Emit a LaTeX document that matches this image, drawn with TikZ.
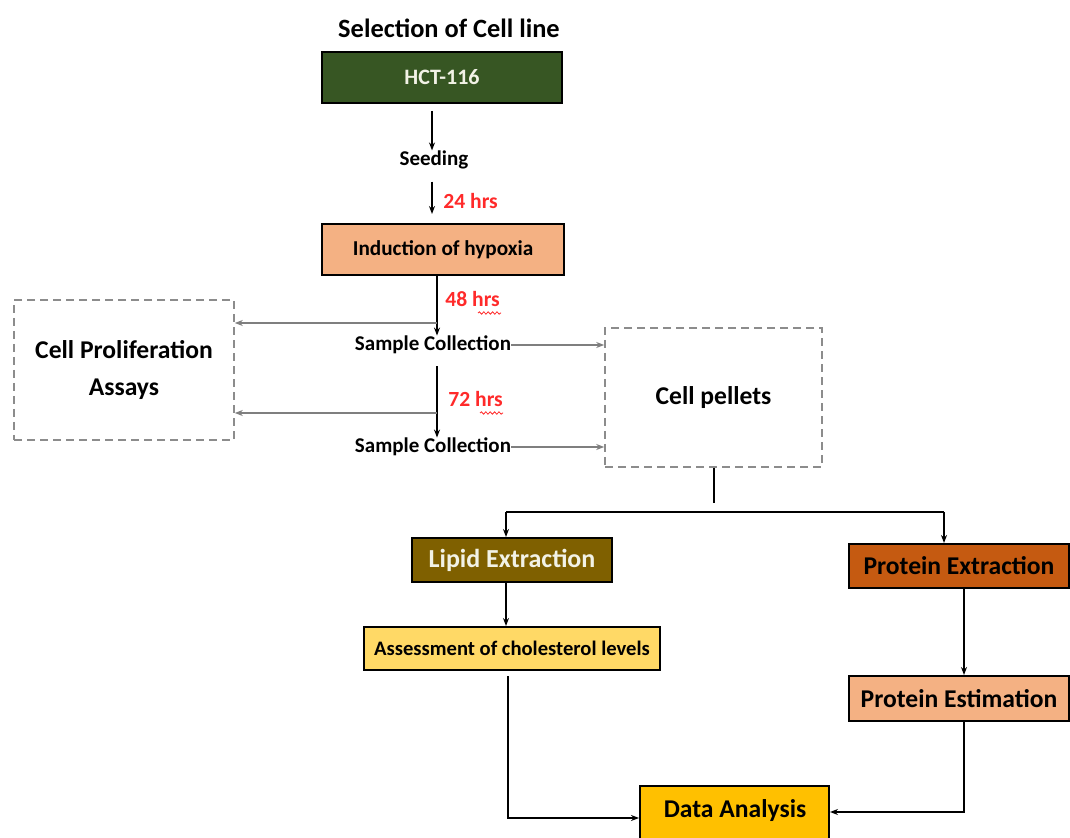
\documentclass[tikz,border=0pt]{standalone}
\usepackage{fontspec}
\setmainfont{Carlito}
\usetikzlibrary{arrows.meta,decorations.pathmorphing}
\definecolor{hctgreen}{HTML}{375623}
\definecolor{salmon}{HTML}{F4B183}
\definecolor{lipidc}{HTML}{7F6000}
\definecolor{protc}{HTML}{C55A11}
\definecolor{assessc}{HTML}{FFD966}
\definecolor{datac}{HTML}{FFC000}
\definecolor{hrsred}{HTML}{FF2A2A}
\definecolor{arrgray}{HTML}{7F7F7F}
\definecolor{dashgray}{HTML}{8C8C8C}
\definecolor{lighttext}{HTML}{F2F2E6}
\begin{document}
\begin{tikzpicture}[x=0.5pt,y=-0.5pt,
  solidbox/.style={draw=black,line width=1pt,inner sep=0pt,font=\bfseries},
  dashbox/.style={draw=dashgray,dash pattern=on 4pt off 2.5pt,line width=0.8pt,inner sep=0pt,font=\bfseries\fontsize{12.8pt}{15.5pt}\selectfont,align=center},
  plain/.style={inner sep=0pt,font=\bfseries\fontsize{10.5pt}{12pt}\selectfont},
  hrs/.style={inner sep=0pt,anchor=west,text=hrsred,font=\bfseries\fontsize{10.8pt}{12pt}\selectfont},
  arr/.style={draw=black,line width=0.75pt,-{Stealth[length=4pt,width=3pt]}},
  line/.style={draw=black,line width=0.75pt},
  garr/.style={draw=arrgray,line width=0.8pt,-{Stealth[length=4pt,width=3pt]}},
  wavy/.style={draw=hrsred,line width=0.4pt,decorate,decoration={snake,amplitude=0.6pt,segment length=2.2pt}}
]
\useasboundingbox (0,0) rectangle (1070,838);

% axis helpers
\coordinate (ax1) at (432,0);
\coordinate (ax2) at (437,0);

% title
\node[inner sep=0pt,font=\bfseries\fontsize{13.2pt}{15pt}\selectfont] (title) at (449,28) {Selection of Cell line};

% boxes
\node[solidbox,fill=hctgreen,text=lighttext,minimum width=120pt,minimum height=25.5pt,font=\bfseries\fontsize{11pt}{13pt}\selectfont] (hct) at (442,77.5) {HCT-116};
\node[plain] (seed) at (434,160) {Seeding};
\node[hrs] (h24) at (443,201) {24 hrs};
\node[solidbox,fill=salmon,minimum width=121pt,minimum height=25.5pt,font=\bfseries\fontsize{10.6pt}{12pt}\selectfont] (ind) at (443,249.5) {Induction of hypoxia};
\node[hrs] (h48) at (445,299) {48 hrs};
\node[plain] (sc1) at (433,345) {Sample Collection};
\node[hrs] (h72) at (448,399) {72 hrs};
\node[plain] (sc2) at (433,447) {Sample Collection};

\node[dashbox,minimum width=110pt,minimum height=70pt] (cpa) at (124,370) {Cell Proliferation\\[3pt]Assays};
\node[dashbox,minimum width=108.5pt,minimum height=69.5pt] (pel) at (713.5,397.5) {Cell pellets};

\node[solidbox,fill=lipidc,text=lighttext,minimum width=100pt,minimum height=22pt,font=\bfseries\fontsize{13pt}{15pt}\selectfont] (lip) at (512,560) {Lipid Extraction};
\node[solidbox,fill=protc,minimum width=110pt,minimum height=22pt,font=\bfseries\fontsize{12.8pt}{15pt}\selectfont] (pex) at (959,566) {Protein Extraction};
\node[solidbox,fill=assessc,minimum width=148pt,minimum height=21.5pt,font=\bfseries\fontsize{10.3pt}{12pt}\selectfont] (ass) at (512,648.5) {Assessment of cholesterol levels};
\node[solidbox,fill=salmon,minimum width=110pt,minimum height=22.5pt,font=\bfseries\fontsize{12.8pt}{15pt}\selectfont] (pes) at (959,698.5) {Protein Estimation};
\node[solidbox,fill=datac,minimum width=94.5pt,minimum height=28pt,font=\bfseries\fontsize{12.8pt}{15pt}\selectfont] (dat) at (734.5,814) {};
\node[inner sep=0pt,font=\bfseries\fontsize{12.8pt}{15pt}\selectfont] (datt) at (735,811) {Data Analysis};

% wavy underlines
\draw[wavy] (478,313) -- (501,313);
\draw[wavy] (480,413) -- (503,413);

% main vertical flow
\draw[arr,shorten <=3.5pt] (hct.south -| ax1) -- (seed.north -| ax1);
\draw[arr,shorten <=6pt,shorten >=4.5pt] (seed.south -| ax1) -- (ind.north -| ax1);
\draw[arr] (ind.south -| ax2) -- (sc1.north -| ax2);
\draw[arr,shorten <=6pt] (sc1.south -| ax2) -- (sc2.north -| ax2);

% side branches
\coordinate (b1) at (437,323);
\coordinate (b2) at (437,413);
\draw[garr] (b1) -- (b1 -| cpa.east);
\draw[garr] (b2) -- (b2 -| cpa.east);
\draw[garr] (sc1.east) -- (sc1.east -| pel.west);
\draw[garr] (sc2.east) -- (sc2.east -| pel.west);

% fork
\coordinate (f0) at (714,503);
\coordinate (fL) at (506,512);
\coordinate (fR) at (944,512);
\draw[line] (pel.south -| f0) -- (f0);
\draw[line] (fL) -- (fR);
\draw[arr] (fL) -- (lip.north -| fL);
\draw[arr] (fR) -- (pex.north -| fR);

% lower flows
\draw[arr] (lip.south -| fL) -- (ass.north -| fL);
\coordinate (dL) at (508,818);
\coordinate (px) at (964,0);
\coordinate (dR) at (964,812);
\draw[arr,shorten <=2.5pt] (ass.south -| dL) -- (dL) -- (dat.west |- dL);
\draw[arr] (pex.south -| px) -- (pes.north -| px);
\draw[arr] (pes.south -| px) -- (dR) -- (dat.east |- dR);
\end{tikzpicture}
\end{document}
